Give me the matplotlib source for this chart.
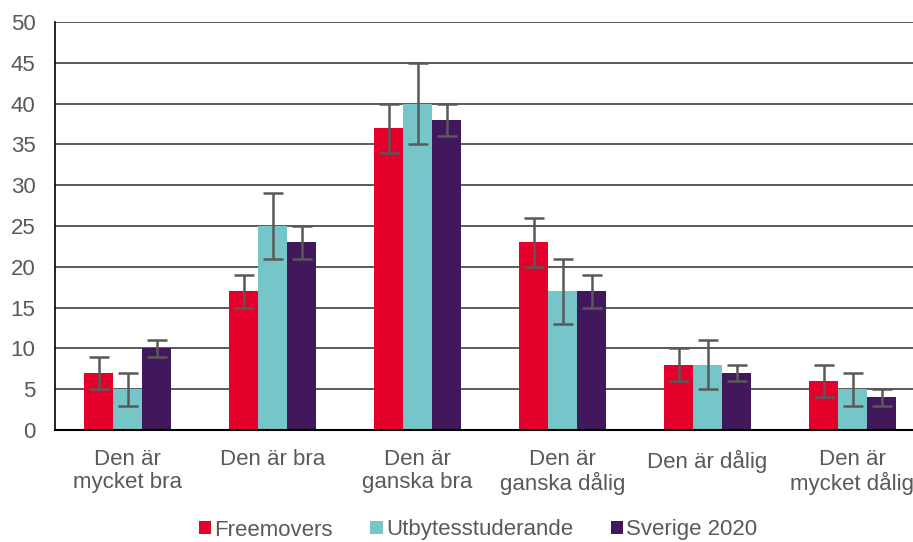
import matplotlib
matplotlib.use("Agg")
import matplotlib.pyplot as plt
import numpy as np

categories = ["Den är\nmycket bra", "Den är bra", "Den är\nganska bra",
              "Den är\nganska dålig", "Den är dålig", "Den är\nmycket dålig"]
series_names = ["Freemovers", "Utbytesstuderande", "Sverige 2020"]
freemovers = [7, 17, 37, 23, 8, 6]
freemovers_lo = [5, 15, 34, 20, 6, 4]
freemovers_hi = [9, 19, 40, 26, 10, 8]
utbyte = [5, 25, 40, 17, 8, 5]
utbyte_lo = [3, 21, 35, 13, 5, 3]
utbyte_hi = [7, 29, 45, 21, 11, 7]
sverige = [10, 23, 38, 17, 7, 4]
sverige_lo = [9, 21, 36, 15, 6, 3]
sverige_hi = [11, 25, 40, 19, 8, 5]
yticks = list(range(0, 51, 5))

colors = ["#E4002B", "#76C6C9", "#42185D"]
text_color = "#595959"
fs = 16

plt.rcParams['font.family'] = ['Liberation Sans', 'DejaVu Sans']

fig = plt.figure(figsize=(9.13, 5.42), dpi=100)
W, H = 913, 542
left, right, top, bottom = 55, 925, 22, 430
ax = fig.add_axes([left / W, 1 - bottom / H, (right - left) / W, (bottom - top) / H])

x = np.arange(len(categories))
bw = 0.2
data = [(freemovers, freemovers_lo, freemovers_hi),
        (utbyte, utbyte_lo, utbyte_hi),
        (sverige, sverige_lo, sverige_hi)]
for i, ((vals, lo, hi), name, c) in enumerate(zip(data, series_names, colors)):
    pos = x + (i - 1) * bw
    vals = np.array(vals); lo = np.array(lo); hi = np.array(hi)
    ax.bar(pos, vals, bw, color=c, label=name, zorder=2)
    ax.errorbar(pos, vals, yerr=[vals - lo, hi - vals], fmt='none',
                ecolor="#595959", elinewidth=1.8, capsize=7.2, capthick=1.8, zorder=3)

ax.set_xlim(-0.5, len(categories) - 0.5)
ax.set_ylim(0, 50)
ax.set_yticks(yticks)
ax.yaxis.grid(True, color="#404040", linewidth=1.2, zorder=0)
ax.set_axisbelow(True)
ax.set_xticks(x)
ax.set_xticklabels(categories, fontsize=fs, color=text_color, linespacing=1.1)
ax.tick_params(axis='y', labelsize=fs, labelcolor=text_color, length=0, pad=14)
ax.tick_params(axis='x', length=0, pad=14)
for s in ["top", "right"]:
    ax.spines[s].set_visible(False)
ax.spines["left"].set_color("#000000")
ax.spines["left"].set_linewidth(1.2)
ax.spines["bottom"].set_color("#000000")
ax.spines["bottom"].set_linewidth(1.5)

handles, labels = ax.get_legend_handles_labels()
fig.legend(handles, labels, loc="center", bbox_to_anchor=(478 / W, 1 - 530 / H),
           ncol=3, frameon=False, fontsize=fs, labelcolor=text_color,
           handlelength=0.55, handleheight=0.55, handletextpad=0.15, columnspacing=1.7,
           borderpad=0)

fig.savefig("out.png", dpi=100)
